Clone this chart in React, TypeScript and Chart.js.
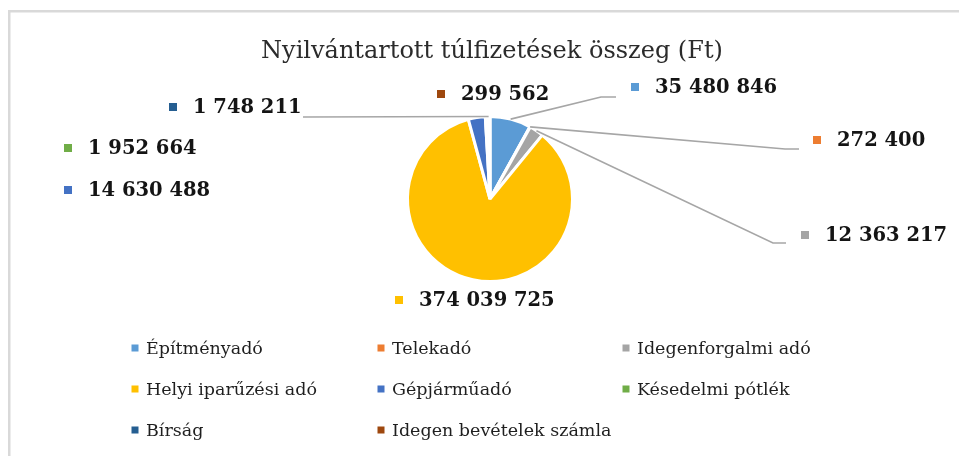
import React, { useEffect, useRef } from "react";
import { Chart, registerables } from "chart.js";

Chart.register(...registerables);

const titleText = "Nyilvántartott túlfizetések összeg (Ft)";
const categories = [
  "Építményadó",
  "Telekadó",
  "Idegenforgalmi adó",
  "Helyi iparűzési adó",
  "Gépjárműadó",
  "Késedelmi pótlék",
  "Bírság",
  "Idegen bevételek számla",
];
const amounts = [35480846, 272400, 12363217, 374039725, 14630488, 1952664, 1748211, 299562];
const sliceColors = ["#5B9BD5", "#ED7D31", "#A5A5A5", "#FFC000", "#4472C4", "#70AD47", "#255E91", "#9E480E"];

// Layout (not data): label marker offsets from the pie centre, and leader bends
const labelLayout: { mx: number; my: number; leader: number[][] }[] = [
  { mx: 145, my: -112, leader: [[111, -102], [126, -102]] },
  { mx: 327, my: -59, leader: [[295, -50], [309, -50]] },
  { mx: 315, my: 36, leader: [[283, 44], [296, 44]] },
  { mx: -91, my: 101, leader: [] },
  { mx: -422, my: -9, leader: [] },
  { mx: -422, my: -51, leader: [] },
  { mx: -317, my: -92, leader: [[-187, -82]] },
  { mx: -49, my: -105, leader: [] },
];
const legendCols = [135, 381, 626];
const legendRows = [348, 389, 430];

const W = 959;
const H = 456;

function fmt(n: number): string {
  return String(n).replace(/\B(?=(\d{3})+(?!\d))/g, " ");
}

const overlayPlugin = {
  id: "overlay",
  afterDatasetsDraw(chart: any) {
    const ctx = chart.ctx as CanvasRenderingContext2D;
    const meta = chart.getDatasetMeta(0);
    const arc0 = meta.data[0] as any;
    const cx = arc0.x;
    const cy = arc0.y;
    ctx.save();
    // frame
    ctx.strokeStyle = "#d9d9d9";
    ctx.lineWidth = 2.5;
    ctx.beginPath();
    ctx.moveTo(9.25, H + 5);
    ctx.lineTo(9.25, 11.25);
    ctx.lineTo(W + 5, 11.25);
    ctx.stroke();

    // title
    ctx.fillStyle = "#2b2b2b";
    ctx.font = "24px 'DejaVu Serif'";
    ctx.textAlign = "center";
    ctx.textBaseline = "alphabetic";
    ctx.fillText(titleText, 492, 58);

    // leader lines and labels
    ctx.textAlign = "left";
    ctx.textBaseline = "middle";
    amounts.forEach((v, i) => {
      const arc = meta.data[i] as any;
      const lay = labelLayout[i];
      if (lay.leader.length) {
        const mid = (arc.startAngle + arc.endAngle) / 2;
        const r = arc.outerRadius;
        ctx.strokeStyle = "#a6a6a6";
        ctx.lineWidth = 1.6;
        ctx.beginPath();
        ctx.moveTo(cx + Math.cos(mid) * r, cy + Math.sin(mid) * r);
        lay.leader.forEach((p) => ctx.lineTo(cx + p[0], cy + p[1]));
        ctx.stroke();
      }
      const mx = cx + lay.mx;
      const my = cy + lay.my;
      ctx.fillStyle = sliceColors[i];
      ctx.fillRect(mx - 4, my - 4, 8, 8);
      ctx.fillStyle = "#141414";
      ctx.font = "bold 19.5px 'DejaVu Serif'";
      ctx.fillText(fmt(v), mx + 20, my + 1);
    });

    // legend
    ctx.font = "17.5px 'DejaVu Serif'";
    categories.forEach((c, i) => {
      const x = legendCols[i % 3];
      const y = legendRows[Math.floor(i / 3)];
      ctx.fillStyle = sliceColors[i];
      ctx.fillRect(x - 3.5, y - 3.5, 7, 7);
      ctx.fillStyle = "#1f1f1f";
      ctx.fillText(c, x + 11, y + 1);
    });
    ctx.restore();
  },
};

export default function App() {
  const ref = useRef<HTMLCanvasElement | null>(null);
  useEffect(() => {
    document.body.style.margin = "0";
    const canvas = ref.current!;
    const cx = 490;
    const cy = 199;
    const half = 84;
    const chart = new Chart(canvas, {
      type: "pie",
      data: {
        labels: categories,
        datasets: [
          {
            data: amounts,
            backgroundColor: sliceColors,
            borderColor: "#ffffff",
            borderWidth: 3,
          },
        ],
      },
      options: {
        responsive: false,
        animation: false,
        devicePixelRatio: 1,
        layout: {
          padding: { left: cx - half, right: W - (cx + half), top: cy - half, bottom: H - (cy + half) },
        },
        plugins: {
          legend: { display: false },
          title: { display: false },
          tooltip: { enabled: false },
        },
      },
      plugins: [overlayPlugin],
    });
    return () => chart.destroy();
  }, []);
  return (
    <div style={{ position: "fixed", left: 0, top: 0, width: W, height: H, background: "#ffffff" }}>
      <canvas ref={ref} width={W} height={H} style={{ width: W, height: H, display: "block" }} />
    </div>
  );
}
